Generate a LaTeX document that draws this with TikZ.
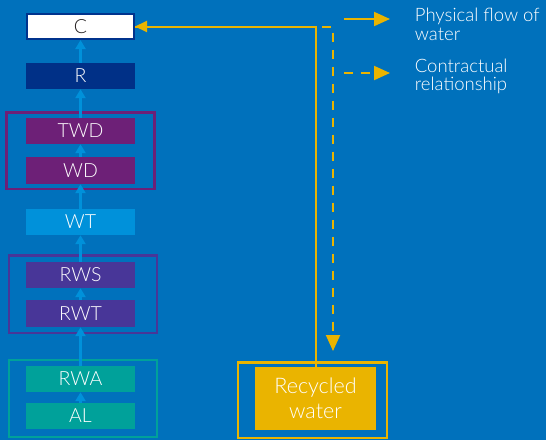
\documentclass[tikz,border=0pt]{standalone}
\usepackage{fontspec}
\setmainfont{Lato}[UprightFont=* Light]
\usetikzlibrary{arrows.meta}

\definecolor{bgblue}{HTML}{0071BC}
\definecolor{navy}{HTML}{003087}
\definecolor{cborder}{HTML}{00338D}
\definecolor{plum}{HTML}{6D2077}
\definecolor{indigo}{HTML}{483698}
\definecolor{kteal}{HTML}{00A19A}
\definecolor{sky}{HTML}{0091DA}
\definecolor{gold}{HTML}{EAB400}
\definecolor{ink}{HTML}{231F20}

\begin{document}
\begin{tikzpicture}[x=1pt,y=-1pt,
  box/.style={minimum width=109pt, minimum height=26pt, inner sep=0pt,
    text=white, font=\fontsize{19.5}{23}\selectfont},
  grp/.style={draw=#1, line width=2.5pt, inner sep=0pt},
  up/.style={draw=sky, line width=2.3pt, -{Triangle[length=9pt,width=10pt]}},
  flow/.style={draw=gold, line width=2pt, -{Triangle[length=12pt,width=11pt]}},
  contract/.style={draw=gold, line width=2pt, dash pattern=on 9pt off 8pt,
    -{Triangle[length=16pt,width=14pt]}},
  keyflow/.style={draw=gold, line width=2pt, -{Triangle[length=16pt,width=14pt]}},
  keytext/.style={text=white, align=left, anchor=base west, inner sep=0pt,
    font=\fontsize{18.5}{18.5}\selectfont}]

% background
\fill[bgblue] (0,0) rectangle (546,440);
\useasboundingbox (0,0) rectangle (546,440);

% group frames
\node[grp=plum, minimum width=148pt, minimum height=76.5pt] (fD) at (80.7,150.5) {};
\node[grp=indigo, minimum width=148pt, minimum height=77.5pt] (fS) at (82.9,294) {};
\node[grp=kteal, minimum width=148pt, minimum height=77pt] (fA) at (82.9,398.5) {};

% stages of the chain
\node[box, fill=white, draw=cborder, line width=2pt, minimum width=107pt,
  minimum height=25pt, text=ink] (C) at (80.5,26.5) {C};
\node[box, fill=navy]   (R)   at (80.5,76)    {R};
\node[box, fill=plum]   (TWD) at (80.5,131)   {TWD};
\node[box, fill=plum, minimum height=27pt] (WD) at (80.5,170.5) {WD};
\node[box, fill=sky]    (WT)  at (80.5,222)   {WT};
\node[box, fill=indigo] (RWS) at (80.5,275)   {RWS};
\node[box, fill=indigo, minimum height=27pt] (RWT) at (80.5,313.5) {RWT};
\node[box, fill=kteal]  (RWA) at (80.5,379)   {RWA};
\node[box, fill=kteal]  (AL)  at (80.5,416)   {AL};

% recycled water
\node[grp=gold, minimum width=149pt, minimum height=75.5pt] (recf) at (312.5,400) {};
\node[fill=gold, minimum width=121pt, minimum height=63pt, inner sep=0pt,
  text=white, align=center, font=\fontsize{21.5}{25}\selectfont]
  (rec) at (315.5,398.5) {Recycled\\water};

% flow up the chain
\draw[up] (R.north)   -- (C.south);
\draw[up] (TWD.north) -- (R.south);
\draw[up] (WD.north)  -- (TWD.south);
\draw[up] (WT.north)  -- (WD.south);
\draw[up] (RWS.north) -- (WT.south);
\draw[up] (RWT.north) -- (RWS.south);
\draw[up] (RWA.north) -- (RWT.south);
\draw[up] (AL.north)  -- (RWA.south);

% recycled water links
\coordinate (turn) at (333,26.5);
\draw[contract, shorten >=10pt] (C.east) -- (turn) -- (turn |- recf.north);
\draw[flow] (rec.north) |- (C.east);

% key
\coordinate (k1a) at (344,19);
\coordinate (k1b) at (390,19);
\coordinate (k2a) at (344,73);
\coordinate (k2b) at (390,73);
\draw[keyflow] (k1a) -- (k1b);
\draw[contract] (k2a) -- (k2b);
% a multi-line node sits on the baseline of its last line
\node[keytext] (key1) at (414.7,40.2) {Physical flow of\\water};
\node[keytext] (key2) at (414.7,90.7) {Contractual\\relationship};
\end{tikzpicture}
\end{document}
